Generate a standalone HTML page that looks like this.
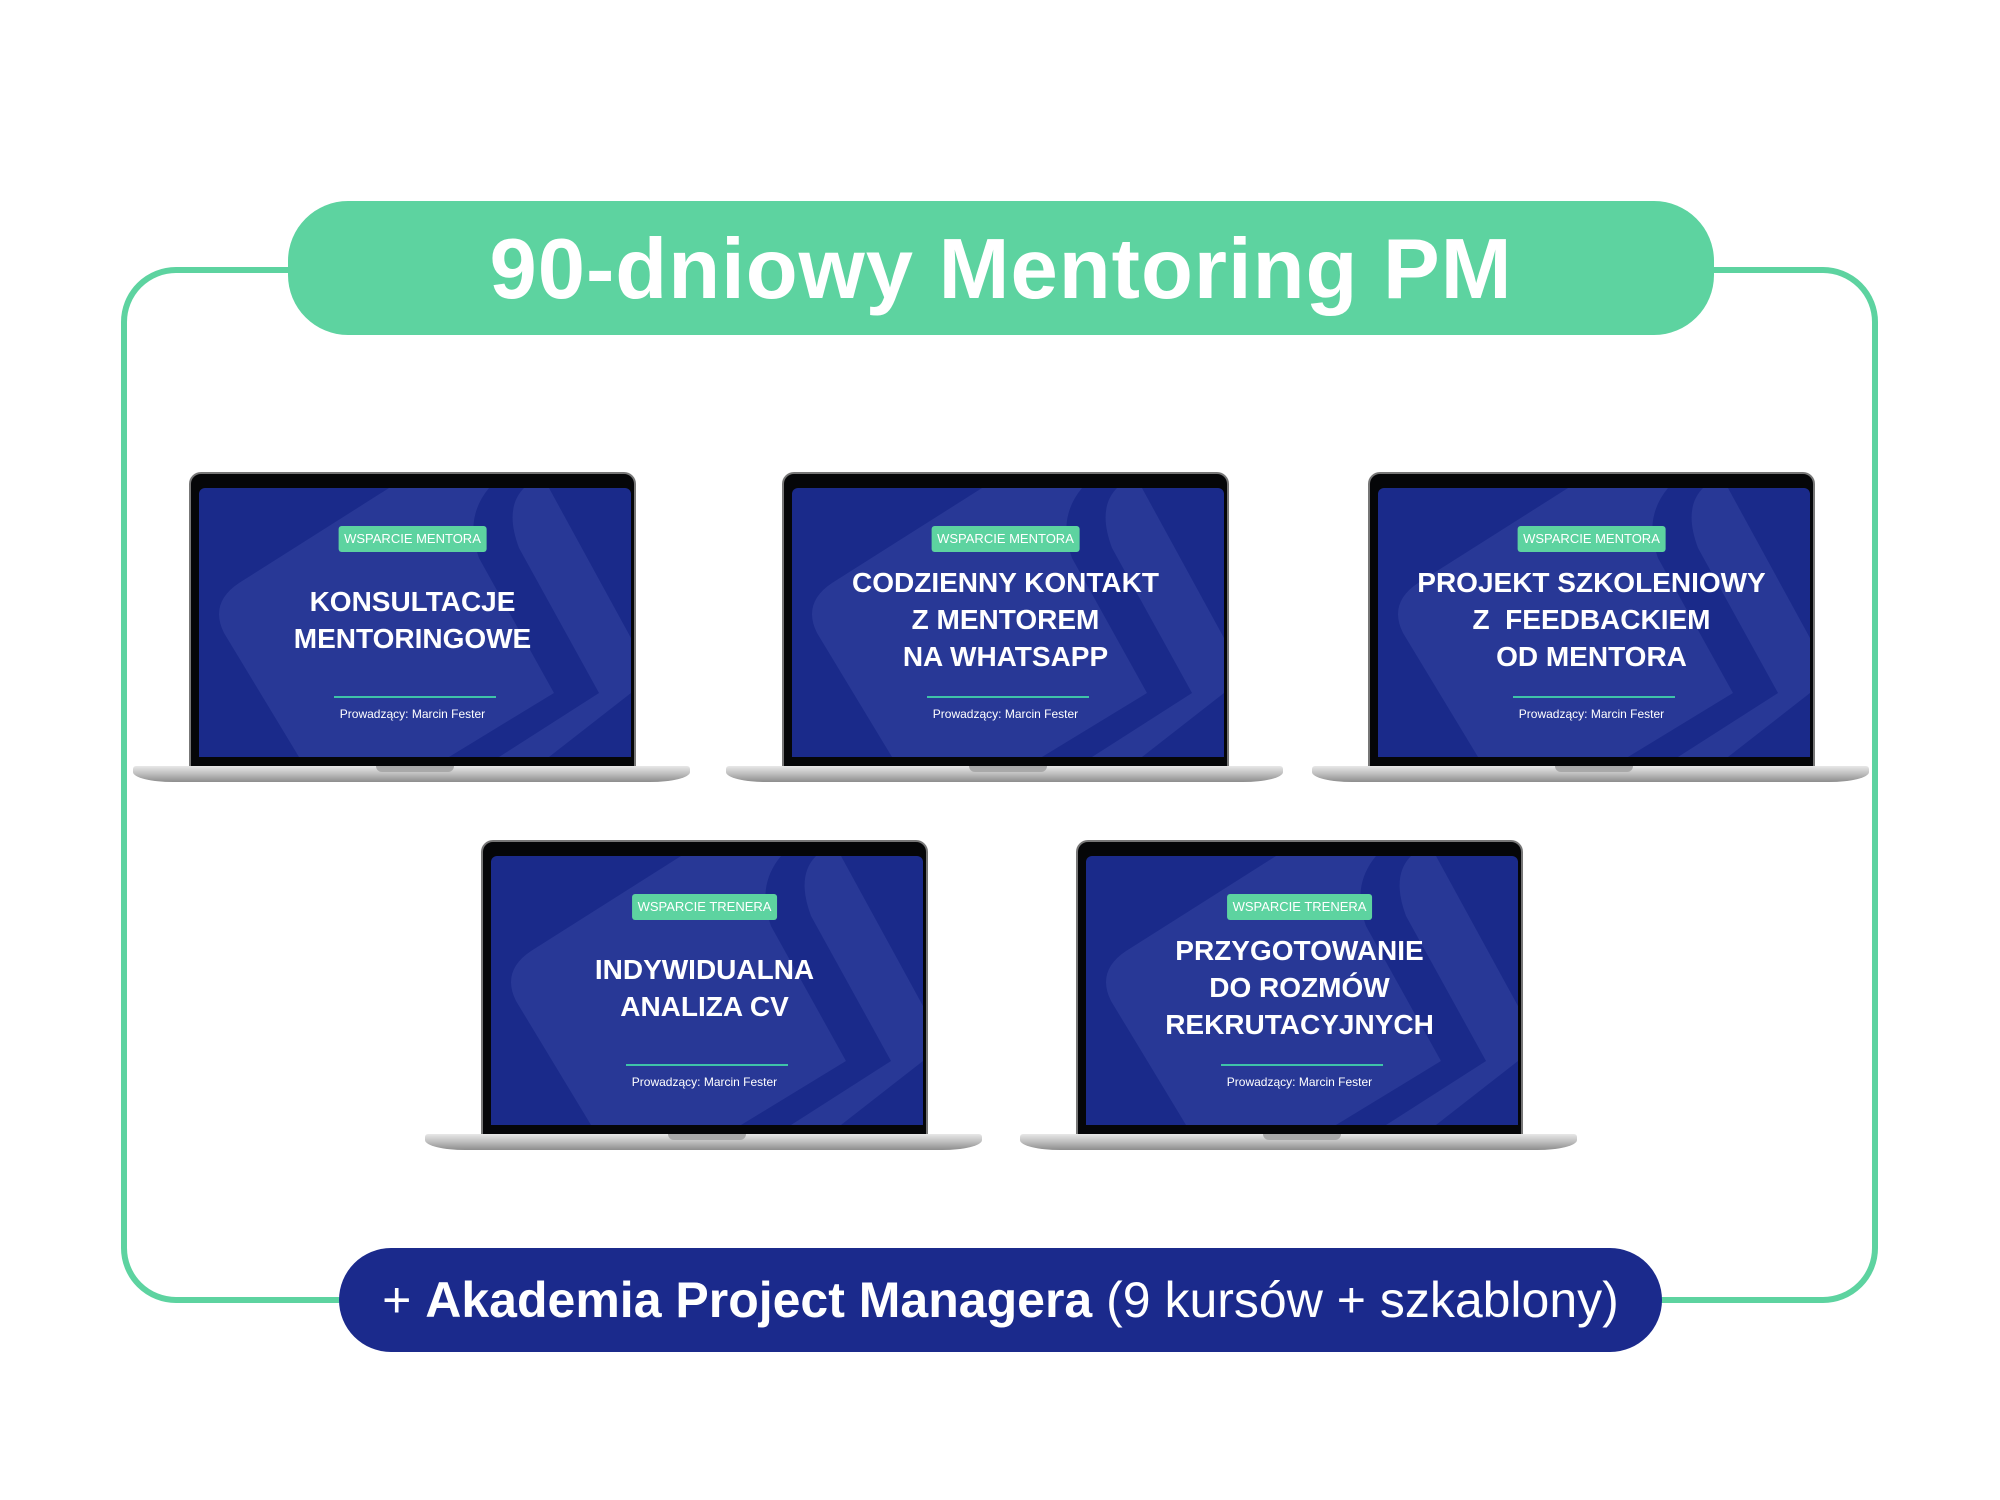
<!DOCTYPE html>
<html><head><meta charset="utf-8"><style>
*{margin:0;padding:0;box-sizing:border-box}
body{width:2000px;height:1500px;background:#fff;position:relative;overflow:hidden;font-family:"Liberation Sans",sans-serif}
.frame{position:absolute;left:121px;top:267px;width:1757px;height:1036px;border:6px solid #5dd3a0;border-radius:55px}
.title{position:absolute;left:288px;top:201px;width:1426px;height:134px;background:#5dd3a0;border-radius:60px;color:#fff;font-weight:bold;font-size:85px;text-align:center;line-height:138px;letter-spacing:1px}
.bottom{position:absolute;left:339px;top:1248px;width:1323px;height:104px;background:#1b2a8c;border-radius:52px;color:#fff;font-size:50px;text-align:center;line-height:104px}
.lap{position:absolute;width:447px;height:311px}
.bez{position:absolute;left:0;top:0;width:447px;height:296px;background:#050608;border-radius:12px 12px 0 0;border:2px solid #777}
.scr{position:absolute;left:8px;top:14px;width:432px;height:269px;background:#1a2a8a;border-radius:6px 6px 0 0;overflow:hidden}
.base{position:absolute;left:-56px;top:294px;width:557px;height:16px;background:linear-gradient(#e8e8e8,#bdbdbd 50%,#8d8d8d);border-radius:3px 3px 40px 40px/3px 3px 10px 10px}
.notch{position:absolute;left:243px;top:0;width:78px;height:6px;background:#a9a9a9;border-radius:0 0 6px 6px}
.badge{position:absolute;left:50%;transform:translateX(-50%);top:52px;height:26px;padding:0 6px;background:#5dd3a0;color:#fff;font-size:13px;line-height:26px;border-radius:3px;white-space:nowrap}
.t{position:absolute;left:0;width:100%;text-align:center;color:#fff;font-weight:bold;font-size:28px;line-height:37px;white-space:nowrap}
.ln{position:absolute;left:143px;top:222px;width:162px;height:2px;background:#3fc3a8}
.pw{position:absolute;left:0;width:100%;top:232px;text-align:center;color:#fff;font-size:12px;line-height:16px}
</style></head><body>
<div class="frame"></div>
<div class="title">90-dniowy Mentoring PM</div>
<div class="bottom">+ <b>Akademia Project Managera</b> (9 kursów + szkablony)</div>

<div class="lap" style="left:189px;top:472px"><div class="bez"><div class="scr"><svg width="432" height="269" style="position:absolute;left:0;top:0"><path d="M190 0 L40 95 Q10 115 25 145 L100 269 L250 269 L355 205 L280 70 Q265 30 290 0Z" fill="#283896"/><path d="M325 0 L350 0 L432 150 L432 205 L350 269 L300 269 L400 205 L320 60 Q305 20 325 0Z" fill="#283896"/></svg></div><div class="badge">WSPARCIE MENTORA</div><div class="t" style="top:109px">KONSULTACJE<br>MENTORINGOWE</div><div class="ln"></div><div class="pw">Prowadzący: Marcin Fester</div></div><div class="base"><div class="notch"></div></div></div>

<div class="lap" style="left:782px;top:472px"><div class="bez"><div class="scr"><svg width="432" height="269" style="position:absolute;left:0;top:0"><path d="M190 0 L40 95 Q10 115 25 145 L100 269 L250 269 L355 205 L280 70 Q265 30 290 0Z" fill="#283896"/><path d="M325 0 L350 0 L432 150 L432 205 L350 269 L300 269 L400 205 L320 60 Q305 20 325 0Z" fill="#283896"/></svg></div><div class="badge">WSPARCIE MENTORA</div><div class="t" style="top:90px">CODZIENNY KONTAKT<br>Z MENTOREM<br>NA WHATSAPP</div><div class="ln"></div><div class="pw">Prowadzący: Marcin Fester</div></div><div class="base"><div class="notch"></div></div></div>

<div class="lap" style="left:1368px;top:472px"><div class="bez"><div class="scr"><svg width="432" height="269" style="position:absolute;left:0;top:0"><path d="M190 0 L40 95 Q10 115 25 145 L100 269 L250 269 L355 205 L280 70 Q265 30 290 0Z" fill="#283896"/><path d="M325 0 L350 0 L432 150 L432 205 L350 269 L300 269 L400 205 L320 60 Q305 20 325 0Z" fill="#283896"/></svg></div><div class="badge">WSPARCIE MENTORA</div><div class="t" style="top:90px">PROJEKT SZKOLENIOWY<br>Z&nbsp; FEEDBACKIEM<br>OD MENTORA</div><div class="ln"></div><div class="pw">Prowadzący: Marcin Fester</div></div><div class="base"><div class="notch"></div></div></div>

<div class="lap" style="left:481px;top:840px"><div class="bez"><div class="scr"><svg width="432" height="269" style="position:absolute;left:0;top:0"><path d="M190 0 L40 95 Q10 115 25 145 L100 269 L250 269 L355 205 L280 70 Q265 30 290 0Z" fill="#283896"/><path d="M325 0 L350 0 L432 150 L432 205 L350 269 L300 269 L400 205 L320 60 Q305 20 325 0Z" fill="#283896"/></svg></div><div class="badge">WSPARCIE TRENERA</div><div class="t" style="top:109px">INDYWIDUALNA<br>ANALIZA CV</div><div class="ln"></div><div class="pw">Prowadzący: Marcin Fester</div></div><div class="base"><div class="notch"></div></div></div>

<div class="lap" style="left:1076px;top:840px"><div class="bez"><div class="scr"><svg width="432" height="269" style="position:absolute;left:0;top:0"><path d="M190 0 L40 95 Q10 115 25 145 L100 269 L250 269 L355 205 L280 70 Q265 30 290 0Z" fill="#283896"/><path d="M325 0 L350 0 L432 150 L432 205 L350 269 L300 269 L400 205 L320 60 Q305 20 325 0Z" fill="#283896"/></svg></div><div class="badge">WSPARCIE TRENERA</div><div class="t" style="top:90px">PRZYGOTOWANIE<br>DO ROZMÓW<br>REKRUTACYJNYCH</div><div class="ln"></div><div class="pw">Prowadzący: Marcin Fester</div></div><div class="base"><div class="notch"></div></div></div>
</body></html>
